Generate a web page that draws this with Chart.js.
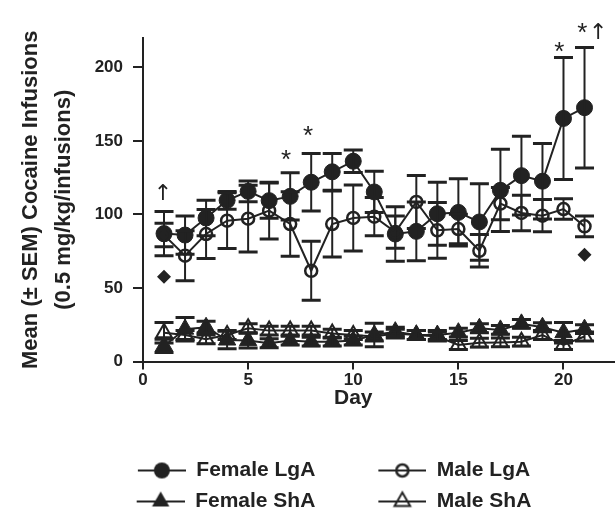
<!DOCTYPE html>
<html>
<head>
<meta charset="utf-8">
<script src="https://cdn.jsdelivr.net/npm/chart.js@4.4.1/dist/chart.umd.min.js"></script>
<style>
html,body{margin:0;padding:0;background:#fff;}
#wrap{width:615px;height:513px;position:relative;}
</style>
</head>
<body>
<div id="wrap"><canvas id="c" width="615" height="513"></canvas></div>
<script>
// ---- data ----
const days = [1,2,3,4,5,6,7,8,9,10,11,12,13,14,15,16,17,18,19,20,21];
const xTicks = [0,5,10,15,20];
const yTicks = [0,50,100,150,200];
const seriesNames = ['Female LgA','Male LgA','Female ShA','Male ShA'];

const femaleLgA    = [87,86,97.6,109.6,115.7,109.4,112.3,121.9,129,136.2,115.3,86.7,88.5,100.5,101.4,94.9,116.4,126.4,122.6,165.3,172.6];
const femaleLgASem = [15,13,12,6,7,12,16,19.5,12.5,7.7,14,18.5,20,21.4,22.8,26,28,26.8,25.7,41.5,41];
const maleLgA      = [86,72,86.7,95.8,97.1,102.6,93.5,61.7,93.5,97.6,98.5,88,108.5,89.2,90.1,75.3,107.4,101,99.2,103.7,91.9];
const maleLgASem   = [8,17,16.7,19,22.7,19.3,22,20,22.5,22.5,13,11,18,19,10,11,11,12,11,7,7];
const femaleShA    = [10.6,22,23.3,14.6,14.2,12.4,14.2,13.5,13.5,14.2,18,20.3,18,18,19.6,22.6,21.5,25.6,23.3,19.6,22];
const femaleShASem = [4.5,8,4,6,5,3,3,3,3,3,8,3,3,3,3,3,3,3,3,7,3];
const maleShA      = [19.6,18,15.1,18,22.6,21,21,21,19,18,17,19,18,17,11.2,12.8,13,13.5,18,11.2,17];
const maleShASem   = [7,3,3,3,3,3,3,3,3,3,3,3,3,3,3,3,3,3,3,3,3];

// extra group markers (diamonds)
const diamondDays = [1,21];
const diamondVals = [57.6,72.6];

// significance marks (day, value level)
const starDays = [6.8,7.85,19.8,20.9];
const starVals = [142,158,215,228];
const arrowDays = [0.95,21.65];
const arrowVals = [114,223];

// ---- styling ----
const INK = '#222';
const tickFamily = "'Liberation Sans Narrow', 'Liberation Sans', Arial, sans-serif";
const textFamily = "'Liberation Sans', Arial, sans-serif";

const pts = (vals) => days.map((d,i) => ({x:d, y:vals[i]}));

function makeIcon(kind){
  const c = document.createElement('canvas');
  c.width = 101; c.height = 24;
  const g = c.getContext('2d');
  const cy = 12, x0 = 53, x1 = 101, cx = 77;
  g.strokeStyle = INK; g.fillStyle = INK; g.lineWidth = 2;
  g.beginPath(); g.moveTo(x0, cy); g.lineTo(x1, cy); g.stroke();
  g.beginPath();
  if (kind === 'fc') { g.arc(cx, cy, 8, 0, Math.PI*2); g.fill(); }
  else if (kind === 'oc') { g.lineWidth = 2.5; g.arc(cx, cy, 6, 0, Math.PI*2); g.stroke(); }
  else {
    const r = kind === 'ft' ? 10 : 9;
    for (let k=0;k<3;k++){
      const a = k*2*Math.PI/3;
      const px = cx + Math.sin(a)*r, py = cy - Math.cos(a)*r;
      k ? g.lineTo(px,py) : g.moveTo(px,py);
    }
    g.closePath();
    if (kind === 'ft') g.fill(); else { g.lineWidth = 2; g.stroke(); }
  }
  return c;
}
const icons = [makeIcon('fc'), makeIcon('oc'), makeIcon('ft'), makeIcon('ot')];

const errorBars = {
  id: 'errorBars',
  afterDatasetsDraw(chart){
    const {ctx, scales:{x, y}} = chart;
    ctx.save();
    ctx.strokeStyle = INK;
    chart.data.datasets.forEach((ds) => {
      if (!ds.sem) return;
      ds.data.forEach((p, i) => {
        const s = ds.sem[i];
        if (!s) return;
        const px = x.getPixelForValue(p.x);
        const yt = y.getPixelForValue(p.y + s);
        const yb = y.getPixelForValue(Math.max(0, p.y - s));
        ctx.lineWidth = 2;
        ctx.beginPath(); ctx.moveTo(px, yt); ctx.lineTo(px, yb); ctx.stroke();
        ctx.lineWidth = 3;
        ctx.beginPath();
        ctx.moveTo(px-9.5, yt); ctx.lineTo(px+9.5, yt);
        ctx.moveTo(px-9.5, yb); ctx.lineTo(px+9.5, yb);
        ctx.stroke();
      });
    });
    ctx.restore();
  }
};

const marks = {
  id: 'marks',
  afterDraw(chart){
    const {ctx, scales:{x, y}, chartArea} = chart;
    ctx.save();
    ctx.fillStyle = INK;
    ctx.textAlign = 'center';
    ctx.font = "26px " + textFamily;
    ctx.textBaseline = 'alphabetic';
    starDays.forEach((d,i) => {
      ctx.fillText('*', x.getPixelForValue(d), y.getPixelForValue(starVals[i]) + 15);
    });
    ctx.font = "22px 'DejaVu Sans', sans-serif";
    ctx.textBaseline = 'middle';
    arrowDays.forEach((d,i) => {
      ctx.fillText('\u2191', x.getPixelForValue(d), y.getPixelForValue(arrowVals[i]));
    });
    // x axis title
    ctx.font = "bold 21px " + textFamily;
    ctx.textBaseline = 'middle';
    const cx = (x.getPixelForValue(xTicks[0]) + x.getPixelForValue(xTicks[xTicks.length-1]))/2;
    ctx.fillText('Day', cx, chartArea.bottom + 36.5);
    ctx.restore();
  }
};

new Chart(document.getElementById('c'), {
  type: 'line',
  data: {
    datasets: [
      { label: seriesNames[0], data: pts(femaleLgA), sem: femaleLgASem, order: 1,
        borderColor: INK, borderWidth: 2, pointStyle: 'circle', pointRadius: 8, pointBorderWidth: 1,
        pointBackgroundColor: INK, pointBorderColor: INK, clip: false },
      { label: seriesNames[1], data: pts(maleLgA), sem: maleLgASem, order: 0,
        borderColor: INK, borderWidth: 2, pointStyle: 'circle', pointRadius: 6, pointBorderWidth: 2.5,
        pointBackgroundColor: 'rgba(0,0,0,0)', pointBorderColor: INK, clip: false },
      { label: seriesNames[2], data: pts(femaleShA), sem: femaleShASem, order: 3,
        borderColor: INK, borderWidth: 2, pointStyle: 'triangle', pointRadius: 10, pointBorderWidth: 1,
        pointBackgroundColor: INK, pointBorderColor: INK, clip: false },
      { label: seriesNames[3], data: pts(maleShA), sem: maleShASem, order: 2,
        borderColor: INK, borderWidth: 2, pointStyle: 'triangle', pointRadius: 9, pointBorderWidth: 2,
        pointBackgroundColor: 'rgba(0,0,0,0)', pointBorderColor: INK, clip: false },
      { label: 'marker', data: diamondDays.map((d,i)=>({x:d, y:diamondVals[i]})), showLine: false, order: 4,
        pointStyle: 'rectRot', pointRadius: 7, pointBorderWidth: 0,
        pointBackgroundColor: INK, pointBorderColor: INK, clip: false }
    ]
  },
  options: {
    responsive: false,
    animation: false,
    devicePixelRatio: 1,
    layout: { autoPadding: false, padding: { top: 38, right: 0, bottom: -9, left: 0 } },
    plugins: {
      tooltip: { enabled: false },
      legend: {
        position: 'bottom',
        align: 'center',
        labels: {
          usePointStyle: true,
          pointStyleWidth: 101,
          padding: 10,
          color: INK,
          font: { family: textFamily, weight: 'bold', size: 21 },
          generateLabels: () => seriesNames.map((n,i) => ({
            text: n, pointStyle: icons[i], fillStyle: 'rgba(0,0,0,0)', strokeStyle: 'rgba(0,0,0,0)',
            lineWidth: 0, hidden: false, datasetIndex: i, fontColor: INK
          }))
        }
      }
    },
    scales: {
      x: {
        type: 'linear', min: 0, max: 22.45,
        afterBuildTicks: (s) => { s.ticks = xTicks.map(v => ({value: v})); },
        ticks: { color: INK, padding: 1, maxRotation: 0, font: { family: tickFamily, weight: 'bold', size: 17 } },
        grid: { drawOnChartArea: false, drawTicks: true, tickLength: 8, color: INK, lineWidth: 2 },
        border: { display: true, color: INK, width: 2 },
        afterFit: (s) => { s.height = 88.5; }
      },
      y: {
        type: 'linear', min: 0, max: 220,
        afterBuildTicks: (s) => { s.ticks = yTicks.map(v => ({value: v})); },
        ticks: { color: INK, padding: 10, font: { family: tickFamily, weight: 'bold', size: 17 } },
        grid: { drawOnChartArea: false, drawTicks: true, tickLength: 10, color: INK, lineWidth: 2 },
        border: { display: true, color: INK, width: 2 },
        title: {
          display: true,
          text: ['Mean (\u00b1 SEM) Cocaine Infusions', '(0.5 mg/kg/infusions)'],
          color: INK,
          font: { family: textFamily, weight: 'bold', size: 22, lineHeight: 1.5 },
          padding: { top: 14, bottom: 0 }
        },
        afterFit: (s) => { s.width = 143; }
      }
    }
  },
  plugins: [errorBars, marks]
});
</script>
</body>
</html>
